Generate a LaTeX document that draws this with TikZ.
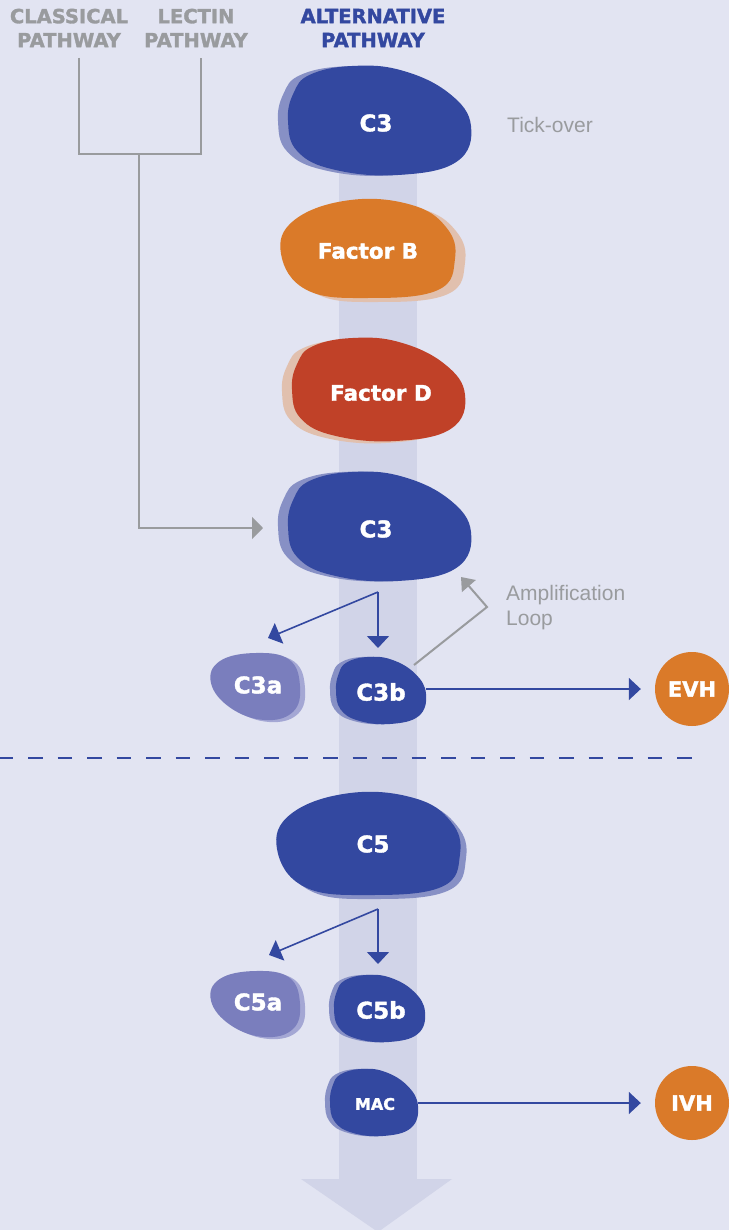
\documentclass[tikz,border=0pt]{standalone}
\usepackage{fontspec}
\setmainfont{Liberation Sans}
\newfontfamily\heavy[BoldFeatures={FakeBold=1.6}]{DejaVu Sans}
\usetikzlibrary{arrows.meta}
\definecolor{bg}{HTML}{E2E4F2}
\definecolor{band}{HTML}{D1D4E8}
\definecolor{cblue}{HTML}{3348A0}
\definecolor{cbluesh}{HTML}{8790C5}
\definecolor{cpurple}{HTML}{7A7EBD}
\definecolor{cpurplesh}{HTML}{A4A7D4}
\definecolor{corange}{HTML}{DA7A29}
\definecolor{cred}{HTML}{C04128}
\definecolor{cbeige}{HTML}{E1C0AE}
\definecolor{cgrey}{HTML}{999B9E}
\newcommand\blobP[5]{\fill[#5,shift={(#1,#2)},xscale=#3,yscale=#4] plot[smooth cycle,tension=0.7] coordinates {(-0.38,-0.42) (-0.15,-0.5) (0.12,-0.46) (0.38,-0.25) (0.5,0.05) (0.42,0.38) (0.1,0.5) (-0.25,0.45) (-0.45,0.28) (-0.5,0.0) (-0.47,-0.25)};}
\newcommand\blobE[5]{\fill[#5,shift={(#1,#2)},xscale=#3,yscale=#4] plot[smooth cycle,tension=0.7] coordinates {(-0.42,-0.3) (-0.1,-0.5) (0.25,-0.45) (0.45,-0.22) (0.5,0.1) (0.4,0.42) (0.0,0.5) (-0.35,0.42) (-0.5,0.05)};}
\newcommand\blobS[5]{\fill[#5,shift={(#1,#2)},xscale=#3,yscale=#4] plot[smooth cycle,tension=0.7] coordinates {(-0.4,-0.38) (0.0,-0.5) (0.38,-0.4) (0.5,0.0) (0.42,0.38) (0.1,0.5) (-0.28,0.32) (-0.5,-0.05)};}
\begin{document}
\begin{tikzpicture}[x=1pt,y=-1pt,
  head/.style={font=\heavy\bfseries\fontsize{19.5}{24}\selectfont, align=center, inner sep=0pt},
  blobtext/.style={font=\heavy\bfseries\fontsize{23}{26}\selectfont, text=white, inner sep=0pt},
  note/.style={font=\fontsize{21}{25}\selectfont, text=cgrey, inner sep=0pt},
  greyline/.style={draw=cgrey, line width=2pt},
  blueline/.style={draw=cblue, line width=1.6pt},
  greytip/.style={-{Triangle[length=11pt,width=22pt]}},
  bluetip/.style={-{Triangle[length=12pt,width=22pt]}},
  disc/.style={circle, fill=corange, minimum size=74pt, inner sep=0pt, text=white, font=\heavy\bfseries\fontsize{21}{24}\selectfont}]
\useasboundingbox (0,0) rectangle (729,1230);
\fill[bg] (0,0) rectangle (729,1230);
% central trunk arrow
\fill[band] (339,120) rectangle (417,1180);
\fill[band] (301,1179) -- (452,1179) -- (378,1232) -- cycle;
% blobs (shadow, then main)
\blobP{369.5}{121}{183}{109}{cbluesh}
\blobP{379.5}{120.5}{183}{109}{cblue}
\blobE{378}{253}{174}{98}{cbeige}
\blobE{368}{249}{174}{98}{corange}
\blobP{368.5}{391.5}{173}{103}{cbeige}
\blobP{378.5}{389.5}{173}{103}{cred}
\blobP{369.5}{526.5}{183}{109}{cbluesh}
\blobP{379.5}{526.5}{183}{109}{cblue}
\blobS{260.5}{688.5}{89}{67}{cpurplesh}
\blobS{255.5}{686.5}{89}{67}{cpurple}
\blobP{375}{690.5}{90}{67}{cbluesh}
\blobP{381}{690.5}{90}{67}{cblue}
\blobE{374.5}{848}{183}{102}{cbluesh}
\blobE{368.5}{844}{183}{102}{cblue}
\blobS{260.5}{1006}{89}{66}{cpurplesh}
\blobS{255.5}{1004}{89}{66}{cpurple}
\blobP{374.5}{1008.5}{91}{67}{cbluesh}
\blobP{379.5}{1008.5}{91}{67}{cblue}
\blobP{369}{1102.5}{88}{67}{cbluesh}
\blobP{374}{1102.5}{88}{67}{cblue}
% headers
\node[head, text=cgrey] (classical) at (69,28) {CLASSICAL\\PATHWAY};
\node[head, text=cgrey] (lectin) at (196,28) {LECTIN\\PATHWAY};
\node[head, text=cblue] (alternative) at (373,28) {ALTERNATIVE\\PATHWAY};
% blob labels
\node[blobtext] (c3top) at (376,123) {C3};
\node[blobtext, font=\heavy\bfseries\fontsize{21.5}{24}\selectfont] (facB) at (368,251) {Factor B};
\node[blobtext, font=\heavy\bfseries\fontsize{21.5}{24}\selectfont] (facD) at (381,393) {Factor D};
\node[blobtext] (c3mid) at (376,529) {C3};
\node[blobtext] (c3a) at (258,685) {C3a};
\node[blobtext] (c3b) at (381,692) {C3b};
\node[blobtext] (c5) at (373,844) {C5};
\node[blobtext] (c5a) at (258,1002) {C5a};
\node[blobtext] (c5b) at (381,1010) {C5b};
\node[blobtext, font=\heavy\bfseries\fontsize{16}{18}\selectfont] (mac) at (375,1104) {MAC};
\node[disc] (evh) at (692,689) {EVH};
\node[disc] (ivh) at (692,1103) {IVH};
% notes
\node[note] (tick) at (550,125) {Tick-over};
\node[note, anchor=west, align=left] (amp) at (506,608) {Amplification\\Loop};
% grey pathway connectors
\coordinate (clB) at (79,58);
\coordinate (leB) at (201,58);
\coordinate (j1) at (79,154);
\coordinate (j2) at (201,154);
\coordinate (jm) at (139,154);
\coordinate (jc) at (139,528);
\coordinate (c3in) at (263,528);
\draw[greyline] (clB) -- (j1) -- (j2) -- (leB);
\draw[greyline, greytip] (jm) -- (jc) -- (c3in);
% amplification loop
\coordinate (c3bTR) at (414,665);
\coordinate (ampK) at (487,607);
\coordinate (ampT) at (461,577);
\draw[greyline, -{Triangle[length=12pt,width=18pt]}] (c3bTR) -- (ampK) -- (ampT);
% C3 cleavage
\coordinate (s1) at (378,592);
\coordinate (c3bIn) at (378,648);
\coordinate (c3aIn) at (268,638);
\draw[blueline, bluetip] (s1) -- (c3bIn);
\draw[blueline, bluetip] (s1) -- (c3aIn);
\coordinate (c3bR) at (426,689);
\draw[blueline, bluetip] (c3bR) -- ([xshift=-14pt]evh.west);
% divider
\coordinate (dl) at (-1.5,758);
\coordinate (dr) at (695,758);
\draw[blueline, dash pattern=on 14.5pt off 15pt] (dl) -- (dr);
% C5 cleavage
\coordinate (s2) at (378,909);
\coordinate (c5bIn) at (378,964);
\coordinate (c5aIn) at (269,955);
\draw[blueline, bluetip] (s2) -- (c5bIn);
\draw[blueline, bluetip] (s2) -- (c5aIn);
\coordinate (macR) at (418,1103);
\draw[blueline, bluetip] (macR) -- ([xshift=-14pt]ivh.west);
\end{tikzpicture}
\end{document}
